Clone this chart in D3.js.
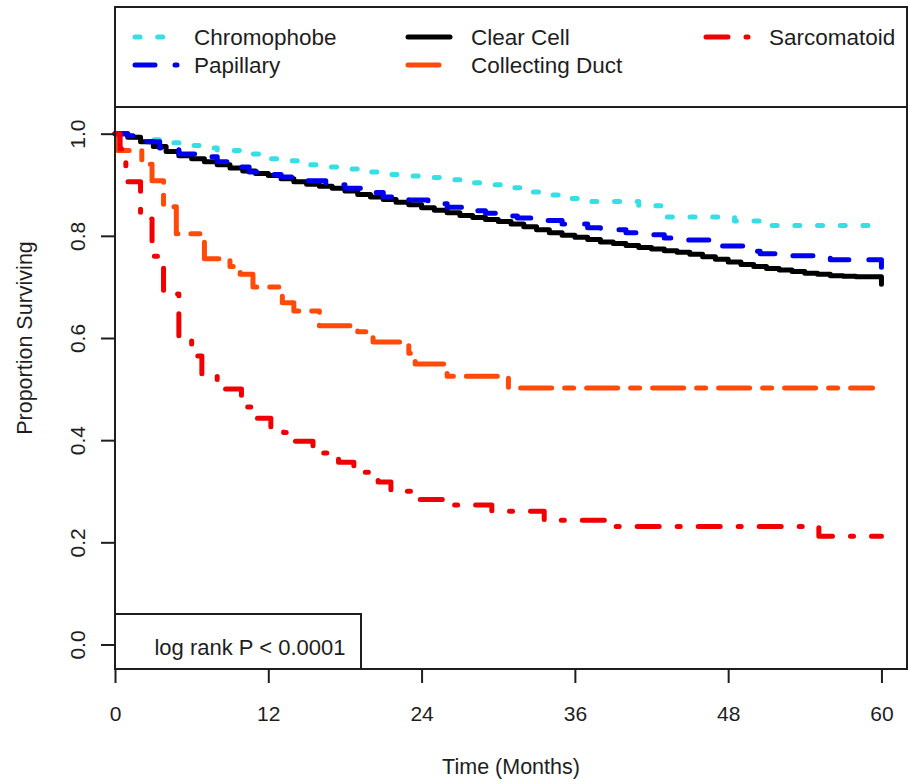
<!DOCTYPE html>
<html>
<head>
<meta charset="utf-8">
<script src="https://cdnjs.cloudflare.com/ajax/libs/d3/7.8.5/d3.min.js"></script>
<style>
  body { margin: 0; background: #fff; }
  svg { display: block; font-family: "Liberation Sans", Arial, sans-serif; }
</style>
</head>
<body>
<svg width="910" height="781"></svg>
<script>
// valori: tempo in mesi e proporzione di sopravviventi
const chromTimes = [0, 1, 2.5, 4, 6, 7.3, 8, 10, 11.4, 13, 14.5, 16, 18, 20, 21, 23, 24.5, 26, 27.5, 29, 30.8, 32, 33.5, 35, 36.5, 41, 42.9, 48.5, 50.8, 59.4];
const chromSurv = [1.0, 0.993, 0.988, 0.982, 0.977, 0.972, 0.967, 0.96, 0.951, 0.947, 0.939, 0.935, 0.931, 0.925, 0.92, 0.917, 0.914, 0.91, 0.904, 0.9, 0.894, 0.886, 0.88, 0.873, 0.867, 0.859, 0.837, 0.829, 0.82, 0.82];

const clearTimes = [0, 1, 2, 3, 4, 5, 6, 7, 8, 9, 10, 11, 12, 13, 14, 15, 16, 17, 18, 19, 20, 21, 22, 23, 24, 25, 26, 27, 28, 29, 30, 31, 32, 33, 34, 35, 36, 37, 38, 39, 40, 41, 42, 43, 44, 45, 46, 47, 48, 49, 50, 51, 52, 53, 54, 55, 56, 57, 58, 60];
const clearSurv = [1.0, 0.993, 0.984, 0.975, 0.965, 0.957, 0.951, 0.945, 0.939, 0.933, 0.927, 0.922, 0.918, 0.912, 0.906, 0.901, 0.897, 0.893, 0.888, 0.881, 0.876, 0.871, 0.866, 0.861, 0.855, 0.85, 0.845, 0.84, 0.836, 0.832, 0.828, 0.823, 0.818, 0.812, 0.806, 0.801, 0.797, 0.793, 0.788, 0.785, 0.781, 0.777, 0.774, 0.771, 0.768, 0.764, 0.759, 0.754, 0.749, 0.744, 0.74, 0.736, 0.733, 0.73, 0.727, 0.725, 0.722, 0.721, 0.72, 0.705];

const ductTimes = [0, 0.2, 2.1, 2.9, 3.8, 4.8, 7.0, 9.0, 9.8, 10.8, 13.1, 14.0, 16.0, 19.0, 20.2, 23.0, 23.5, 26.0, 30.8, 59.3];
const ductSurv = [1.0, 0.967, 0.94, 0.908, 0.857, 0.804, 0.755, 0.74, 0.725, 0.7, 0.669, 0.653, 0.624, 0.612, 0.592, 0.57, 0.549, 0.525, 0.502, 0.502];

const papTimes = [0, 1, 2, 3.5, 5, 6.5, 8, 9, 10.5, 12, 13, 14.5, 16.5, 18, 19.5, 21, 23, 24.5, 26, 27.5, 29, 30, 31.5, 33, 35, 37, 38, 40, 41, 43, 44, 46.5, 47.5, 49.5, 50.5, 53, 55, 56, 60];
const papSurv = [1.0, 0.996, 0.984, 0.972, 0.96, 0.955, 0.945, 0.935, 0.925, 0.92, 0.915, 0.908, 0.9, 0.893, 0.885, 0.876, 0.87, 0.863, 0.856, 0.849, 0.844, 0.839, 0.835, 0.83, 0.823, 0.816, 0.812, 0.806, 0.802, 0.796, 0.792, 0.785, 0.78, 0.77, 0.765, 0.761, 0.756, 0.753, 0.735];

const sarcTimes = [0, 0.4, 0.85, 2.0, 2.9, 3.8, 5.0, 6.0, 6.8, 8.0, 9.9, 11.0, 12.2, 13.2, 14.0, 15.5, 17.5, 18.7, 20.6, 21.6, 23.8, 25.7, 29.5, 33.6, 39.0, 55.1, 60];
const sarcSurv = [1.0, 0.97, 0.906, 0.833, 0.76, 0.686, 0.604, 0.565, 0.529, 0.5, 0.465, 0.443, 0.425, 0.415, 0.398, 0.375, 0.357, 0.337, 0.318, 0.3, 0.284, 0.273, 0.261, 0.243, 0.231, 0.212, 0.212];

const xTicks = [0, 12, 24, 36, 48, 60];
const yTicks = [0, 0.2, 0.4, 0.6, 0.8, 1.0];

// legenda: riga per riga come nell'immagine
const legendRow1 = ["Chromophobe", "Clear Cell", "Sarcomatoid"];
const legendRow2 = ["Papillary", "Collecting Duct"];

window.addEventListener("DOMContentLoaded", (event) => {
  const svg = d3.select("svg");

  const width = +svg.attr("width");
  const height = +svg.attr("height");

  const left = 115, right = 907, top = 7, bottom = 669;
  const ink = "#1e1e1e";
  const lw = 5;

  const x = d3.scaleLinear().domain([0, 62]).range([left, right]);
  const y = d3.scaleLinear().domain([-0.048, 1.248]).range([bottom, top]);

  // stile di ogni curva (ordine di disegno come in R)
  const styles = {
    "Chromophobe": { color: "#36dfe6", dash: "5,17.7" },
    "Clear Cell": { color: "#000000", dash: null },
    "Collecting Duct": { color: "#ff4a0a", dash: "31,13,9,13" },
    "Papillary": { color: "#0000ee", dash: "20,20" },
    "Sarcomatoid": { color: "#f00000", dash: "22,18,3,18" }
  };
  const curves = [
    { name: "Chromophobe", t: chromTimes, s: chromSurv },
    { name: "Clear Cell", t: clearTimes, s: clearSurv },
    { name: "Collecting Duct", t: ductTimes, s: ductSurv },
    { name: "Papillary", t: papTimes, s: papSurv },
    { name: "Sarcomatoid", t: sarcTimes, s: sarcSurv }
  ];

  const line = d3
    .line()
    .x((d) => x(d[0]))
    .y((d) => y(d[1]))
    .curve(d3.curveStepAfter);

  svg
    .append("g")
    .selectAll("path")
    .data(curves)
    .join("path")
    .attr("d", (c) => line(c.t.map((t, i) => [t, c.s[i]])))
    .attr("fill", "none")
    .attr("stroke", (c) => styles[c.name].color)
    .attr("stroke-width", lw)
    .attr("stroke-linecap", "round")
    .attr("stroke-linejoin", "round")
    .attr("stroke-dasharray", (c) => styles[c.name].dash);

  // assi
  const xAxis = svg
    .append("g")
    .attr("transform", `translate(0,${bottom})`)
    .call(d3.axisBottom(x).tickValues(xTicks).tickSize(14).tickSizeOuter(0).tickPadding(23.5));
  xAxis.select(".domain").remove();
  xAxis.selectAll(".tick line").attr("stroke", ink).attr("stroke-width", 2);
  xAxis.selectAll(".tick text").attr("fill", ink).style("font-size", "21px").style("font-family", "Liberation Sans, Arial, sans-serif");

  const yAxis = svg
    .append("g")
    .attr("transform", `translate(${left},0)`)
    .call(d3.axisLeft(y).tickValues(yTicks).tickSize(14).tickSizeOuter(0).tickFormat(d3.format(".1f")));
  yAxis.select(".domain").remove();
  yAxis.selectAll(".tick line").attr("stroke", ink).attr("stroke-width", 2);
  yAxis
    .selectAll(".tick text")
    .attr("fill", ink)
    .attr("transform", "rotate(-90)")
    .attr("x", 0)
    .attr("y", -30.5)
    .attr("dy", null)
    .attr("text-anchor", "middle")
    .style("font-size", "21px")
    .style("font-family", "Liberation Sans, Arial, sans-serif");

  // cornice del grafico
  svg
    .append("rect")
    .attr("x", left)
    .attr("y", top)
    .attr("width", right - left)
    .attr("height", bottom - top)
    .attr("fill", "none")
    .attr("stroke", ink)
    .attr("stroke-width", 2);

  // titoli degli assi
  svg
    .append("text")
    .attr("x", (left + right) / 2)
    .attr("y", 774)
    .attr("text-anchor", "middle")
    .attr("fill", ink)
    .style("font-size", "21.5px")
    .text("Time (Months)");

  svg
    .append("text")
    .attr("transform", `translate(32,${(top + bottom) / 2}) rotate(-90)`)
    .attr("text-anchor", "middle")
    .attr("fill", ink)
    .style("font-size", "21.5px")
    .text("Proportion Surviving");

  // riquadro della legenda in alto
  const legend = svg.append("g");
  legend
    .append("rect")
    .attr("x", left)
    .attr("y", top)
    .attr("width", right - left)
    .attr("height", 100)
    .attr("fill", "#fff")
    .attr("stroke", ink)
    .attr("stroke-width", 2);

  const colX = [133, 406, 704];
  const rowY = [37, 65];
  const items = [];
  legendRow1.forEach((name, i) => items.push({ name: name, col: i, row: 0 }));
  legendRow2.forEach((name, i) => items.push({ name: name, col: i, row: 1 }));

  const item = legend
    .selectAll("g.item")
    .data(items)
    .join("g")
    .attr("class", "item")
    .attr("transform", (d) => `translate(${colX[d.col]},${rowY[d.row]})`);

  item
    .append("line")
    .attr("x1", 2)
    .attr("x2", 44)
    .attr("y1", 0)
    .attr("y2", 0)
    .attr("stroke", (d) => styles[d.name].color)
    .attr("stroke-width", lw)
    .attr("stroke-linecap", "round")
    .attr("stroke-dasharray", (d) => styles[d.name].dash);

  item
    .append("text")
    .attr("x", (d) => (d.col === 0 ? 61 : 65))
    .attr("y", 0)
    .attr("dy", "0.35em")
    .attr("fill", ink)
    .style("font-size", "22.5px")
    .text((d) => d.name);

  // riquadro con il test log rank
  svg
    .append("rect")
    .attr("x", left)
    .attr("y", 614)
    .attr("width", 246)
    .attr("height", bottom - 614)
    .attr("fill", "#fff")
    .attr("stroke", ink)
    .attr("stroke-width", 2);

  svg
    .append("text")
    .attr("x", 250)
    .attr("y", 647)
    .attr("dy", "0.35em")
    .attr("text-anchor", "middle")
    .attr("fill", ink)
    .style("font-size", "22px")
    .text("log rank P < 0.0001");
});
</script>
</body>
</html>
